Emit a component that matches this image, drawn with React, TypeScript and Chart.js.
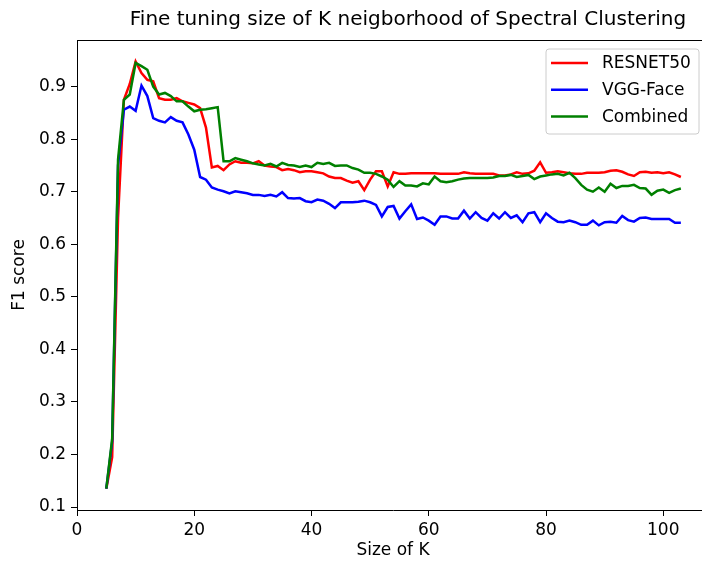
import React, { useEffect, useRef } from "react";
import { Chart, registerables } from "chart.js";

Chart.register(...registerables);

const TITLE = "Fine tuning size of K neigborhood of Spectral Clustering";
const X_LABEL = "Size of K";
const Y_LABEL = "F1 score";

const kValues = [
  5, 6, 7, 8, 9, 10, 11, 12, 13, 14, 15, 16, 17, 18, 19, 20, 21, 22, 23, 24, 25, 26, 27, 28, 29, 30,
  31, 32, 33, 34, 35, 36, 37, 38, 39, 40, 41, 42, 43, 44, 45, 46, 47, 48, 49, 50, 51, 52, 53, 54, 55, 56, 57,
  58, 59, 60, 61, 62, 63, 64, 65, 66, 67, 68, 69, 70, 71, 72, 73, 74, 75, 76, 77, 78, 79, 80, 81, 82, 83,
  84, 85, 86, 87, 88, 89, 90, 91, 92, 93, 94, 95, 96, 97, 98, 99, 100, 101, 102, 103,
];

const resnet50 = [
  0.135, 0.195, 0.65, 0.875, 0.905, 0.948, 0.926, 0.913, 0.91, 0.878, 0.875, 0.875, 0.878, 0.872, 0.869, 0.866, 0.859, 0.822, 0.746, 0.749, 0.741, 0.752, 0.758, 0.755, 0.755, 0.754,
  0.758, 0.75, 0.748, 0.747, 0.741, 0.743, 0.741, 0.737, 0.739, 0.739, 0.737, 0.735, 0.729, 0.726, 0.726, 0.721, 0.717, 0.72, 0.703, 0.723, 0.739, 0.739, 0.71, 0.737, 0.734, 0.734, 0.735,
  0.735, 0.735, 0.735, 0.735, 0.734, 0.734, 0.734, 0.734, 0.737, 0.735, 0.734, 0.734, 0.734, 0.734, 0.731, 0.731, 0.733, 0.737, 0.734, 0.735, 0.74, 0.756, 0.736, 0.737, 0.739, 0.737,
  0.735, 0.734, 0.734, 0.736, 0.736, 0.736, 0.737, 0.74, 0.741, 0.738, 0.733, 0.73, 0.737, 0.738, 0.736, 0.737, 0.735, 0.737, 0.733, 0.728,
];

const vggFace = [
  0.135, 0.225, 0.75, 0.856, 0.862, 0.854, 0.902, 0.882, 0.84, 0.835, 0.832, 0.842, 0.835, 0.832, 0.809, 0.78, 0.728, 0.723, 0.708, 0.704, 0.701, 0.697, 0.701, 0.699, 0.697, 0.694,
  0.694, 0.692, 0.694, 0.691, 0.699, 0.688, 0.687, 0.688, 0.682, 0.68, 0.685, 0.683, 0.677, 0.669, 0.68, 0.68, 0.68, 0.681, 0.683, 0.68, 0.675, 0.653, 0.671, 0.673, 0.649, 0.663, 0.676,
  0.648, 0.651, 0.645, 0.637, 0.653, 0.653, 0.649, 0.649, 0.664, 0.649, 0.661, 0.65, 0.645, 0.659, 0.649, 0.661, 0.65, 0.655, 0.642, 0.659, 0.661, 0.642, 0.659, 0.65, 0.643, 0.642,
  0.645, 0.642, 0.637, 0.637, 0.645, 0.636, 0.642, 0.643, 0.641, 0.654, 0.646, 0.643, 0.65, 0.651, 0.648, 0.648, 0.648, 0.648, 0.641, 0.641,
];

const combined = [
  0.135, 0.23, 0.761, 0.875, 0.885, 0.945, 0.939, 0.932, 0.9, 0.885, 0.888, 0.882, 0.872, 0.872, 0.862, 0.853, 0.856, 0.857, 0.859, 0.861, 0.758, 0.758, 0.764, 0.761, 0.758, 0.754,
  0.752, 0.75, 0.753, 0.748, 0.755, 0.751, 0.75, 0.747, 0.75, 0.747, 0.755, 0.753, 0.755, 0.749, 0.75, 0.75, 0.745, 0.742, 0.736, 0.736, 0.734, 0.729, 0.723, 0.709, 0.72, 0.712, 0.712,
  0.71, 0.716, 0.714, 0.729, 0.72, 0.718, 0.72, 0.723, 0.725, 0.726, 0.726, 0.726, 0.726, 0.727, 0.73, 0.73, 0.732, 0.728, 0.73, 0.732, 0.724, 0.729, 0.731, 0.733, 0.734, 0.731,
  0.736, 0.726, 0.713, 0.704, 0.7, 0.708, 0.7, 0.715, 0.707, 0.711, 0.711, 0.713, 0.707, 0.706, 0.694, 0.702, 0.704, 0.698, 0.703, 0.706,
];

const seriesLabels = ["RESNET50", "VGG-Face", "Combined"];
const seriesColors = ["#ff0000", "#0000ff", "#008000"];
const seriesValues = [resnet50, vggFace, combined];

const xTickValues = [0, 20, 40, 60, 80, 100];
const yTickValues = [0.1, 0.2, 0.3, 0.4, 0.5, 0.6, 0.7, 0.8, 0.9];

const FONT = "'DejaVu Sans', sans-serif";

const decorPlugin = {
  id: "decor",
  afterDraw(chart: any) {
    const { ctx, chartArea: a } = chart;
    ctx.save();
    ctx.strokeStyle = "#000";
    ctx.lineWidth = 1;
    ctx.beginPath();
    ctx.moveTo(a.left, Math.round(a.top) + 0.5);
    ctx.lineTo(a.right, Math.round(a.top) + 0.5);
    ctx.moveTo(Math.round(a.right) - 0.5, a.top);
    ctx.lineTo(Math.round(a.right) - 0.5, a.bottom);
    ctx.stroke();

    const cx = (a.left + a.right) / 2;
    ctx.fillStyle = "#000";
    ctx.textAlign = "center";
    ctx.textBaseline = "middle";
    ctx.font = `20px ${FONT}`;
    ctx.fillText(TITLE, 408, 20);

    ctx.font = `17px ${FONT}`;
    ctx.fillText(X_LABEL, cx, 551);

    ctx.save();
    ctx.translate(20, (a.top + a.bottom) / 2);
    ctx.rotate(-Math.PI / 2);
    ctx.fillText(Y_LABEL, 0, 0);
    ctx.restore();

    // legend
    const bx = 546, by = 49, bw = 153, bh = 85, r = 3;
    ctx.beginPath();
    ctx.moveTo(bx + r, by);
    ctx.lineTo(bx + bw - r, by);
    ctx.quadraticCurveTo(bx + bw, by, bx + bw, by + r);
    ctx.lineTo(bx + bw, by + bh - r);
    ctx.quadraticCurveTo(bx + bw, by + bh, bx + bw - r, by + bh);
    ctx.lineTo(bx + r, by + bh);
    ctx.quadraticCurveTo(bx, by + bh, bx, by + bh - r);
    ctx.lineTo(bx, by + r);
    ctx.quadraticCurveTo(bx, by, bx + r, by);
    ctx.closePath();
    ctx.fillStyle = "rgba(255,255,255,0.8)";
    ctx.fill();
    ctx.strokeStyle = "#cccccc";
    ctx.lineWidth = 1;
    ctx.stroke();

    ctx.textAlign = "left";
    ctx.font = `17px ${FONT}`;
    chart.data.datasets.forEach((ds: any, i: number) => {
      const y = by + 14 + i * 26.7;
      ctx.strokeStyle = ds.borderColor;
      ctx.lineWidth = 2.5;
      ctx.beginPath();
      ctx.moveTo(551, y);
      ctx.lineTo(588, y);
      ctx.stroke();
      ctx.fillStyle = "#000";
      ctx.fillText(ds.label, 602, y + 1);
    });
    ctx.restore();
  },
};

export default function App() {
  const canvasRef = useRef<HTMLCanvasElement | null>(null);

  useEffect(() => {
    const canvas = canvasRef.current;
    if (!canvas) return;
    const datasets = seriesLabels.map((label, i) => ({
      label,
      data: kValues.map((k, j) => ({ x: k, y: seriesValues[i][j] })),
      borderColor: seriesColors[i],
      backgroundColor: seriesColors[i],
      borderWidth: 2.5,
      pointRadius: 0,
      fill: false,
      tension: 0,
      order: 3 - i,
    }));
    const tickStyle = { family: FONT, size: 17 };
    const chart = new Chart(canvas, {
      type: "line",
      data: { datasets },
      options: {
        animation: false,
        responsive: false,
        maintainAspectRatio: false,
        layout: { padding: { top: 40, right: 3, left: 0, bottom: 0 } },
        plugins: {
          legend: { display: false },
          title: { display: false },
          tooltip: { enabled: false },
        },
        scales: {
          x: {
            type: "linear",
            min: 0,
            max: 107.8,
            afterBuildTicks: (scale: any) => {
              scale.ticks = xTickValues.map((v) => ({ value: v }));
            },
            afterFit: (scale: any) => {
              scale.height = 54;
            },
            grid: {
              drawOnChartArea: false,
              drawTicks: true,
              tickLength: 6,
              color: "#000",
              lineWidth: 1,
            },
            border: { display: true, color: "#000", width: 1 },
            ticks: {
              color: "#000",
              font: tickStyle,
              padding: 4,
              maxRotation: 0,
              callback: (v: any) => String(v),
            },
          },
          y: {
            type: "linear",
            min: 0.0944,
            max: 0.9887,
            afterBuildTicks: (scale: any) => {
              scale.ticks = yTickValues.map((v) => ({ value: v }));
            },
            afterFit: (scale: any) => {
              scale.width = 77;
            },
            grid: {
              drawOnChartArea: false,
              drawTicks: true,
              tickLength: 6,
              color: "#000",
              lineWidth: 1,
            },
            border: { display: true, color: "#000", width: 1 },
            ticks: {
              color: "#000",
              font: tickStyle,
              padding: 5,
              callback: (v: any) => Number(v).toFixed(1),
            },
          },
        },
      },
      plugins: [decorPlugin],
    } as any);
    return () => chart.destroy();
  }, []);

  return (
    <div
      style={{
        position: "fixed",
        left: 0,
        top: 0,
        width: 702,
        height: 564,
        overflow: "hidden",
        background: "#fff",
      }}
    >
      <canvas ref={canvasRef} width={712} height={564} style={{ display: "block" }} />
    </div>
  );
}
